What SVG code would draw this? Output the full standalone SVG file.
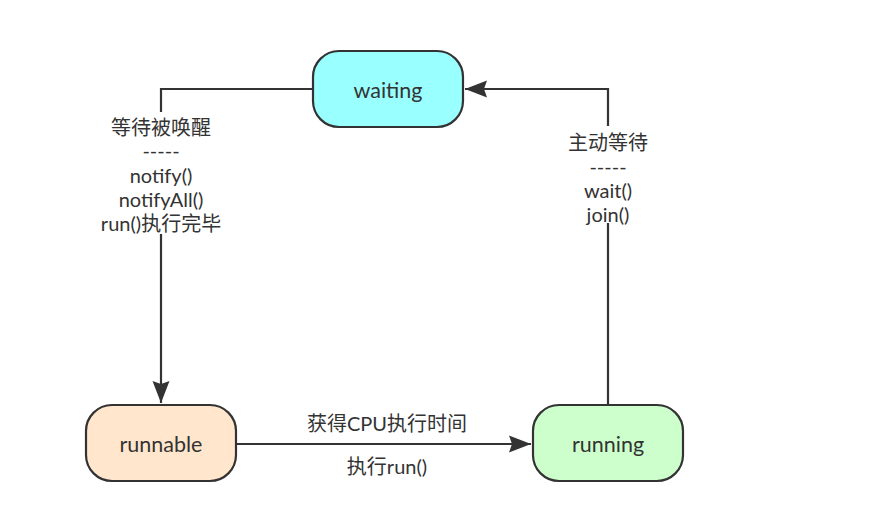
<svg xmlns="http://www.w3.org/2000/svg" width="869" height="530" viewBox="0 0 869 530">
  <style>
    .node { stroke: #333333; stroke-width: 2.2; }
    .t { font-family: "Lato", "Noto Sans CJK SC", sans-serif; font-size: 20px; fill: #333333; text-anchor: middle; dominant-baseline: central; }
    .nt { font-size: 21.5px; }
    .edge { fill: none; stroke: #333333; stroke-width: 2.2; }
    .bg { fill: #ffffff; }
  </style>
  <defs>
    <marker id="arrow" markerUnits="userSpaceOnUse" markerWidth="24" markerHeight="18" viewBox="0 0 24 18" refX="22" refY="9" orient="auto">
      <path d="M0,0.5 L22,9 L0,17.5 L3,9 Z" fill="#333333"/>
    </marker>
  </defs>
  <rect width="869" height="530" fill="#ffffff"/>

  <g id="connectors">
    <path class="edge" d="M313,89 H161 V403" marker-end="url(#arrow)"/>
    <rect class="bg" x="108" y="112" width="106" height="122"/>
    <text class="t" x="161" y="127">等待被唤醒</text>
    <text class="t" x="161" y="150">-----</text>
    <text class="t" x="161" y="175">notify()</text>
    <text class="t" x="161" y="199">notifyAll()</text>
    <text class="t" x="161" y="223">run()执行完毕</text>

    <path class="edge" d="M608,405 V89 H465" marker-end="url(#arrow)"/>
    <rect class="bg" x="562" y="126" width="92" height="97"/>
    <text class="t" x="608" y="142">主动等待</text>
    <text class="t" x="608" y="166">-----</text>
    <text class="t" x="608" y="190">wait()</text>
    <text class="t" x="608" y="214">join()</text>

    <path class="edge" d="M236,444 H531" marker-end="url(#arrow)"/>
    <text class="t" x="387" y="423">获得CPU执行时间</text>
    <text class="t" x="387" y="466">执行run()</text>
  </g>

  <g id="waiting">
    <rect class="node" x="313" y="51" width="150" height="76" rx="26" ry="26" fill="#99FFFF"/>
    <text class="t nt" x="388" y="90">waiting</text>
  </g>

  <g id="runnable">
    <rect class="node" x="86" y="405" width="150" height="76" rx="26" ry="26" fill="#FFE6CC"/>
    <text class="t nt" x="161" y="444">runnable</text>
  </g>

  <g id="running">
    <rect class="node" x="533" y="405" width="150" height="76" rx="26" ry="26" fill="#CCFFCC"/>
    <text class="t nt" x="608" y="444">running</text>
  </g>
</svg>
